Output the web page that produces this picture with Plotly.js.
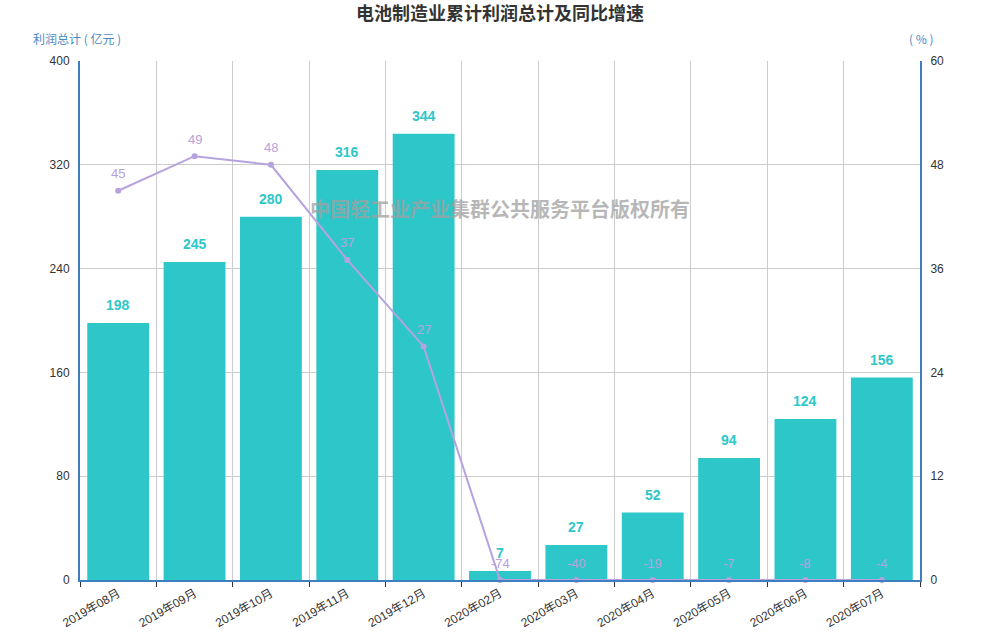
<!DOCTYPE html>
<html><head><meta charset="utf-8">
<script src="https://cdn.plot.ly/plotly-3.0.1.min.js"></script>
<style>html,body{margin:0;padding:0;background:#fff}#chart{width:1000px;height:640px}</style>
</head><body><div id="chart"></div>
<script>
const categories = ["2019年08月","2019年09月","2019年10月","2019年11月","2019年12月","2020年02月","2020年03月","2020年04月","2020年05月","2020年06月","2020年07月"];
const profit = [198,245,280,316,344,7,27,52,94,124,156];
const growth = [45,49,48,37,27,-74,-40,-19,-7,-8,-4];
const leftTicks = [0,80,160,240,320,400];
const rightTicks = [0,12,24,36,48,60];

const barColor = "#2ec7c9";
const lineColor = "#b6a2de";
const axisBlue = "#3f7fbf";
const fontFam = "Liberation Sans, Noto Sans CJK SC, sans-serif";

// Line drawn within the right axis range (values below 0 shown at 0), labels show real values
const growthShown = growth.map(v => Math.max(0, v));

const traces = [
  {type:"bar", x:categories, y:profit, marker:{color:barColor}, hoverinfo:"x+y", yaxis:"y"},
  {type:"scatter", mode:"lines+markers", x:categories, y:growthShown, yaxis:"y2",
   line:{color:lineColor, width:2}, marker:{color:lineColor, size:6}, cliponaxis:false}
];

const annotations = [];
categories.forEach((c,i) => {
  annotations.push({x:c, y:profit[i], xref:"x", yref:"y", text:String(profit[i]), showarrow:false,
    yshift:18, font:{family:fontFam, size:14, color:barColor, weight:"bold"}});
});
categories.forEach((c,i) => {
  annotations.push({x:c, y:growthShown[i], xref:"x", yref:"y2", text:String(growth[i]), showarrow:false,
    yshift:17, font:{family:fontFam, size:13, color:lineColor}});
});
annotations.push({xref:"paper", yref:"paper", x:-0.058, y:1.0, yshift:12, xanchor:"left", yanchor:"bottom",
  text:"利润总计 ( 亿元 )", showarrow:false, font:{family:"Noto Sans CJK SC, sans-serif", size:12, color:"#4a8ac4"}});
annotations.push({xref:"paper", yref:"paper", x:1.0, y:1.0, yshift:12, xanchor:"left", xshift:-13, yanchor:"bottom",
  text:"( % )", showarrow:false, font:{family:"Noto Sans CJK SC, sans-serif", size:12, color:"#4a8ac4"}});
annotations.push({xref:"paper", yref:"paper", x:0.5, y:0.716, xanchor:"center", yanchor:"middle",
  text:"中国轻工业产业集群公共服务平台版权所有", showarrow:false,
  font:{family:"Noto Sans CJK SC, sans-serif", size:20, color:"rgba(160,160,160,0.75)", weight:"bold"}});

const layout = {
  width:1000, height:640,
  margin:{l:80, r:80, t:61, b:60, pad:0},
  paper_bgcolor:"#fff", plot_bgcolor:"#fff",
  showlegend:false,
  bargap:0.19,
  title:{text:"电池制造业累计利润总计及同比增速", x:0.5, xanchor:"center", y:0.978, yanchor:"middle",
    font:{family:"Noto Sans CJK SC, sans-serif", size:18, color:"#333", weight:"bold"}},
  font:{family:fontFam, size:12, color:"#333"},
  xaxis:{type:"category", range:[-0.5, categories.length-0.5], autorange:false,
    tickson:"boundaries", showgrid:true, gridcolor:"#cccccc", gridwidth:1,
    ticks:"outside", ticklen:5, tickcolor:"#333", tickangle:-30,
    showline:true, linecolor:axisBlue, linewidth:2, zeroline:false,
    tickfont:{family:fontFam, size:12, color:"#333"}},
  yaxis:{range:[0,400], tickvals:leftTicks, showgrid:true, gridcolor:"#cccccc", gridwidth:1,
    showline:true, linecolor:axisBlue, linewidth:2, zeroline:false, ticks:"", ticklabelstandoff:6,
    tickfont:{family:fontFam, size:12, color:"#333"}},
  yaxis2:{range:[0,60], tickvals:rightTicks, overlaying:"y", side:"right", showgrid:false,
    showline:true, linecolor:axisBlue, linewidth:2, zeroline:false, ticks:"", ticklabelstandoff:6,
    tickfont:{family:fontFam, size:12, color:"#333"}},
  annotations:annotations
};
Plotly.newPlot("chart", traces, layout, {displayModeBar:false, staticPlot:true});
</script></body></html>
